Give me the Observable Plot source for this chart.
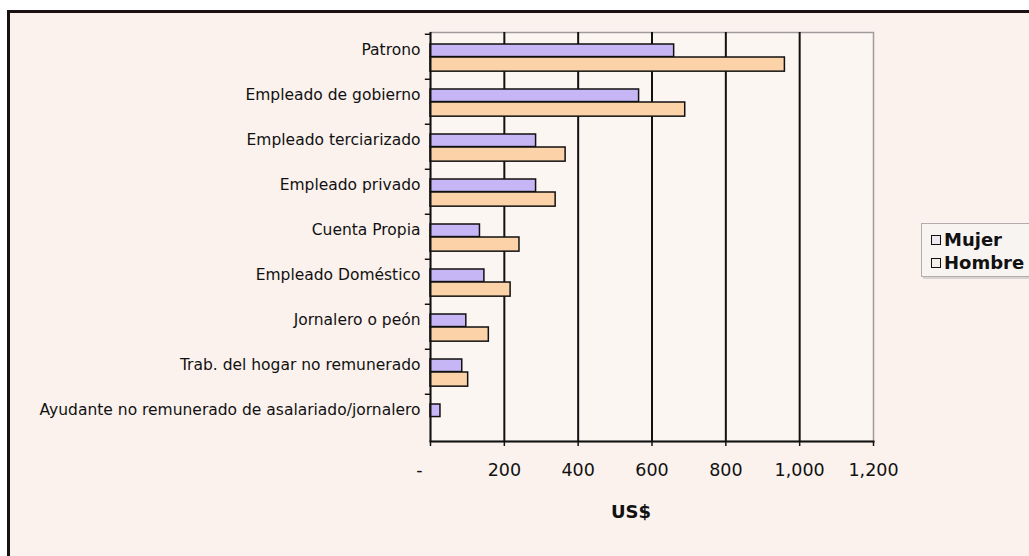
<!DOCTYPE html>
<html><head><meta charset="utf-8">
<script src="https://cdn.jsdelivr.net/npm/d3@7"></script>
<script src="https://cdn.jsdelivr.net/npm/@observablehq/plot@0.6"></script>
<style>
html,body{margin:0;padding:0;background:#fff;}
#wrap{position:relative;width:1029px;height:556px;overflow:hidden;background:#fff;}
#frame{position:absolute;left:7px;top:10px;width:1100px;height:600px;border:3px solid #1a1212;background:#fbf2ee;box-sizing:border-box;}
#chart{position:absolute;left:0;top:0;}
#legend{position:absolute;left:921px;top:223px;width:140px;height:52px;border:1px solid #b4acac;background:#f8f4f2;box-shadow:2px 2px 0 #d8d2d0;font-family:"DejaVu Sans";font-weight:bold;font-size:18px;color:#111;}
.item{position:absolute;left:9px;height:20px;line-height:20px;white-space:nowrap;}
.sw{display:inline-block;width:8px;height:8px;border:1.5px solid #111;margin-right:3px;vertical-align:1px;}
</style></head>
<body>
<div id="wrap">
  <div id="frame"></div>
  <div id="chart"></div>
  <div id="legend"></div>
</div>
<script>
const categories = ["Patrono","Empleado de gobierno","Empleado terciarizado","Empleado privado","Cuenta Propia","Empleado Doméstico","Jornalero o peón","Trab. del hogar no remunerado","Ayudante no remunerado de asalariado/jornalero"];
const mujer = [660, 565, 286, 286, 134, 146, 97, 86, 27];
const hombre = [960, 690, 366, 339, 241, 217, 158, 102, null];
const series = ["Mujer", "Hombre"];
const colors = ["#c7b6f6", "#fcd3a8"];
const swatchFill = ["#efeaf2", "#f5efe9"];
const xTicks = [0, 200, 400, 600, 800, 1000, 1200];
const xLabel = "US$";

const rows = categories.flatMap((c, i) => [
  {cat: c, series: "Mujer", value: mujer[i]},
  {cat: c, series: "Hombre", value: hombre[i]}
]).filter(d => d.value != null);

const W = 1029, H = 556, mL = 430, mR = 156, mT = 32, mB = 115;
const band = (H - mT - mB) / categories.length;

const chart = Plot.plot({
  width: W, height: H,
  marginLeft: mL, marginRight: mR, marginTop: mT, marginBottom: mB,
  style: {background: "transparent", fontFamily: "DejaVu Sans", fontSize: "15.5px", color: "#111"},
  x: {domain: [xTicks[0], xTicks[xTicks.length - 1]]},
  y: {domain: categories, padding: 0},
  color: {domain: series, range: colors},
  marks: [
    Plot.frame({fill: "#fcf6f3", stroke: "#a39b9b", strokeWidth: 1.5}),
    Plot.ruleX(xTicks.slice(1, -1), {stroke: "#111", strokeWidth: 2}),
    Plot.barX(rows.filter(d => d.series === "Mujer"), {y: "cat", x: "value", fill: "series", stroke: "#111", strokeWidth: 1.5, insetTop: 10, insetBottom: band - 23}),
    Plot.barX(rows.filter(d => d.series === "Hombre"), {y: "cat", x: "value", fill: "series", stroke: "#111", strokeWidth: 1.5, insetTop: 23, insetBottom: band - 37.6}),
    Plot.ruleX([0], {stroke: "#111", strokeWidth: 2}),
    Plot.frame({anchor: "bottom", stroke: "#111", strokeWidth: 2}),
    Plot.ruleY(categories, {y: d => d, x1: -14, x2: 0, dy: -band / 2, stroke: "#111", strokeWidth: 1.5}),
    Plot.axisX({ticks: xTicks, tickFormat: d => d === 0 ? "-\u00a0\u00a0\u00a0\u00a0" : d3.format(",")(d), tickSize: 5, tickPadding: 17, fontSize: 17.5, label: null, stroke: "#111", strokeWidth: 1.5}),
    Plot.axisY({tickSize: 0, tickPadding: 10, label: null, dy: -7}),
    Plot.text([xLabel], {frameAnchor: "bottom", dy: 76, dx: -21, fontWeight: "bold", fontSize: 18, fill: "#111"})
  ]
});
document.getElementById("chart").appendChild(chart);

const legend = document.getElementById("legend");
series.forEach((s, i) => {
  const item = document.createElement("div");
  item.className = "item";
  item.style.top = (6 + i * 23) + "px";
  const sw = document.createElement("span");
  sw.className = "sw";
  sw.style.background = swatchFill[i];
  item.appendChild(sw);
  item.appendChild(document.createTextNode(s));
  legend.appendChild(item);
});
</script>
</body></html>
